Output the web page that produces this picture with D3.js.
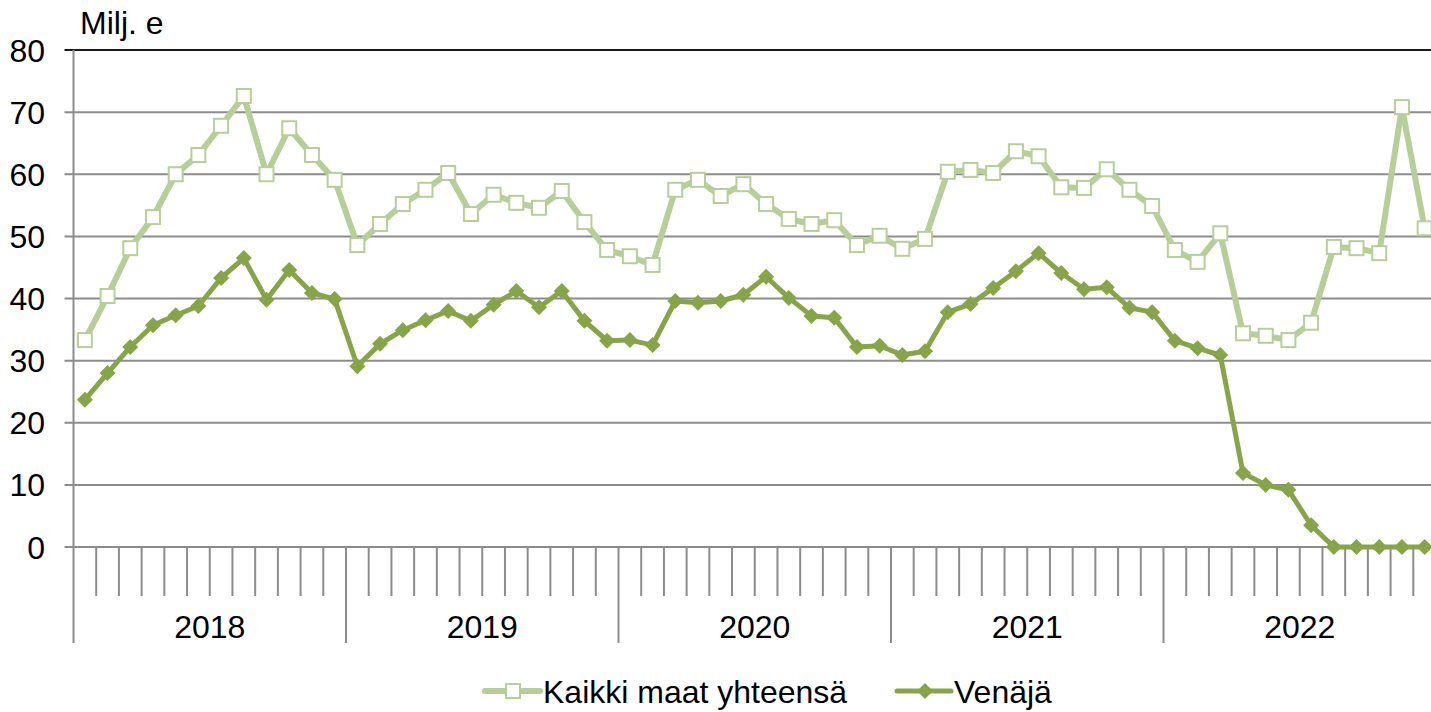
<!DOCTYPE html>
<html>
<head>
<meta charset="utf-8">
<script src="https://cdn.jsdelivr.net/npm/d3@7"></script>
<style>
  body { margin: 0; background: #fff; }
  svg text { font-family: "Liberation Sans", Arial, sans-serif; fill: #000; }
</style>
</head>
<body>
<div id="chart"></div>
<script>
// Monthly values, Jan 2018 .. Dec 2022 (Milj. e)
var years = ['2018', '2019', '2020', '2021', '2022'];
var yTicks = [0, 10, 20, 30, 40, 50, 60, 70, 80];

var kaikki = [
  33.3, 40.4, 48.1, 53.1, 60.0, 63.1, 67.8, 72.6, 60.0, 67.4, 63.1, 59.1,
  48.6, 52.0, 55.2, 57.5, 60.2, 53.6, 56.7, 55.4, 54.6, 57.3, 52.3, 47.8,
  46.8, 45.4, 57.5, 59.1, 56.5, 58.4, 55.2, 52.8, 52.0, 52.6, 48.6, 50.1,
  48.0, 49.6, 60.4, 60.7, 60.2, 63.7, 62.9, 57.9, 57.8, 60.8, 57.5, 54.9,
  47.8, 45.9, 50.5, 34.4, 34.0, 33.3, 36.1, 48.3, 48.1, 47.3, 70.8, 51.3
];
var venaja = [
  23.7, 28.0, 32.2, 35.7, 37.3, 38.8, 43.3, 46.5, 39.8, 44.6, 40.9, 39.9,
  29.1, 32.7, 34.9, 36.5, 38.0, 36.4, 39.0, 41.2, 38.6, 41.2, 36.4, 33.2,
  33.3, 32.5, 39.6, 39.3, 39.6, 40.6, 43.5, 40.1, 37.2, 36.9, 32.2, 32.4,
  30.9, 31.5, 37.8, 39.1, 41.7, 44.4, 47.3, 44.1, 41.5, 41.8, 38.5, 37.8,
  33.2, 32.0, 30.9, 11.9, 10.0, 9.2, 3.5, 0, 0, 0, 0, 0
];

var lightGreen = '#b6cf98';
var darkGreen = '#86a548';
var gridColor = '#8c8c8c';

var width = 1431, height = 712;
var margin = { left: 73.5, right: -5, top: 50, bottom: 165 };
var fontSize = '32px';

var svg = d3.select('#chart').append('svg')
  .attr('width', width)
  .attr('height', height);

var months = d3.range(kaikki.length);

var x = d3.scaleBand()
  .domain(months)
  .range([margin.left, width - margin.right])
  .paddingInner(0).paddingOuter(0);

var y = d3.scaleLinear()
  .domain([0, 80])
  .range([height - margin.bottom, margin.top]);

var x0 = margin.left, x1 = width - margin.right;

// gridlines + y labels
svg.append('g')
  .selectAll('line')
  .data(yTicks)
  .enter().append('line')
  .attr('x1', x0 - 9).attr('x2', x1)
  .attr('y1', d => y(d)).attr('y2', d => y(d))
  .attr('stroke', d => d === 80 ? '#1a1a1a' : gridColor)
  .attr('stroke-width', 2);

svg.append('g')
  .selectAll('text')
  .data(yTicks)
  .enter().append('text')
  .attr('x', 45).attr('y', d => y(d))
  .attr('text-anchor', 'end')
  .attr('dy', '0.36em')
  .style('font-size', fontSize)
  .text(d => d);

// y axis line
svg.append('line')
  .attr('x1', x0).attr('x2', x0)
  .attr('y1', y(80)).attr('y2', y(0))
  .attr('stroke', gridColor).attr('stroke-width', 2);

// month ticks
var y0 = y(0);
svg.append('g')
  .selectAll('line')
  .data(d3.range(kaikki.length + 1))
  .enter().append('line')
  .attr('x1', d => x0 + d * x.step()).attr('x2', d => x0 + d * x.step())
  .attr('y1', y0)
  .attr('y2', d => d % 12 === 0 ? y0 + 96 : y0 + 49)
  .attr('stroke', gridColor).attr('stroke-width', 2);

// year labels
svg.append('g')
  .selectAll('text')
  .data(years)
  .enter().append('text')
  .attr('x', (d, i) => x0 + (i * 12 + 6) * x.step())
  .attr('y', y0 + 91)
  .attr('text-anchor', 'middle')
  .style('font-size', fontSize)
  .text(d => d);

// unit label
svg.append('text')
  .attr('x', 80).attr('y', 34)
  .style('font-size', fontSize)
  .text('Milj. e');

var cx = i => x(i) + x.bandwidth() / 2;

var line = d3.line()
  .x((d, i) => cx(i))
  .y(d => y(d));

// Kaikki maat yhteensä
svg.append('path')
  .datum(kaikki)
  .attr('d', line)
  .attr('fill', 'none')
  .attr('stroke', lightGreen)
  .attr('stroke-width', 6)
  .attr('stroke-linejoin', 'round');

svg.append('g')
  .selectAll('rect')
  .data(kaikki)
  .enter().append('rect')
  .attr('x', (d, i) => cx(i) - 7)
  .attr('y', d => y(d) - 7)
  .attr('width', 14).attr('height', 14)
  .attr('fill', '#fff')
  .attr('stroke', lightGreen)
  .attr('stroke-width', 2);

// Venäjä
svg.append('path')
  .datum(venaja)
  .attr('d', line)
  .attr('fill', 'none')
  .attr('stroke', darkGreen)
  .attr('stroke-width', 5)
  .attr('stroke-linejoin', 'round');

var diamond = 'M0,-8L8,0L0,8L-8,0Z';
svg.append('g')
  .selectAll('path')
  .data(venaja)
  .enter().append('path')
  .attr('d', diamond)
  .attr('transform', (d, i) => `translate(${cx(i)},${y(d)})`)
  .attr('fill', darkGreen);

// legend
var ly = 691;
var legend = svg.append('g');
legend.append('line')
  .attr('x1', 485).attr('x2', 540).attr('y1', ly).attr('y2', ly)
  .attr('stroke', lightGreen).attr('stroke-width', 6).attr('stroke-linecap', 'round');
legend.append('rect')
  .attr('x', 506).attr('y', ly - 7).attr('width', 14).attr('height', 14)
  .attr('fill', '#fff').attr('stroke', lightGreen).attr('stroke-width', 2);
legend.append('text')
  .attr('x', 543).attr('y', ly).attr('dy', '0.36em')
  .style('font-size', fontSize)
  .text('Kaikki maat yhteensä');

legend.append('line')
  .attr('x1', 897).attr('x2', 951).attr('y1', ly).attr('y2', ly)
  .attr('stroke', darkGreen).attr('stroke-width', 5).attr('stroke-linecap', 'round');
legend.append('path')
  .attr('d', diamond)
  .attr('transform', `translate(925,${ly})`)
  .attr('fill', darkGreen);
legend.append('text')
  .attr('x', 954).attr('y', ly).attr('dy', '0.36em')
  .style('font-size', fontSize)
  .text('Venäjä');
</script>
</body>
</html>
